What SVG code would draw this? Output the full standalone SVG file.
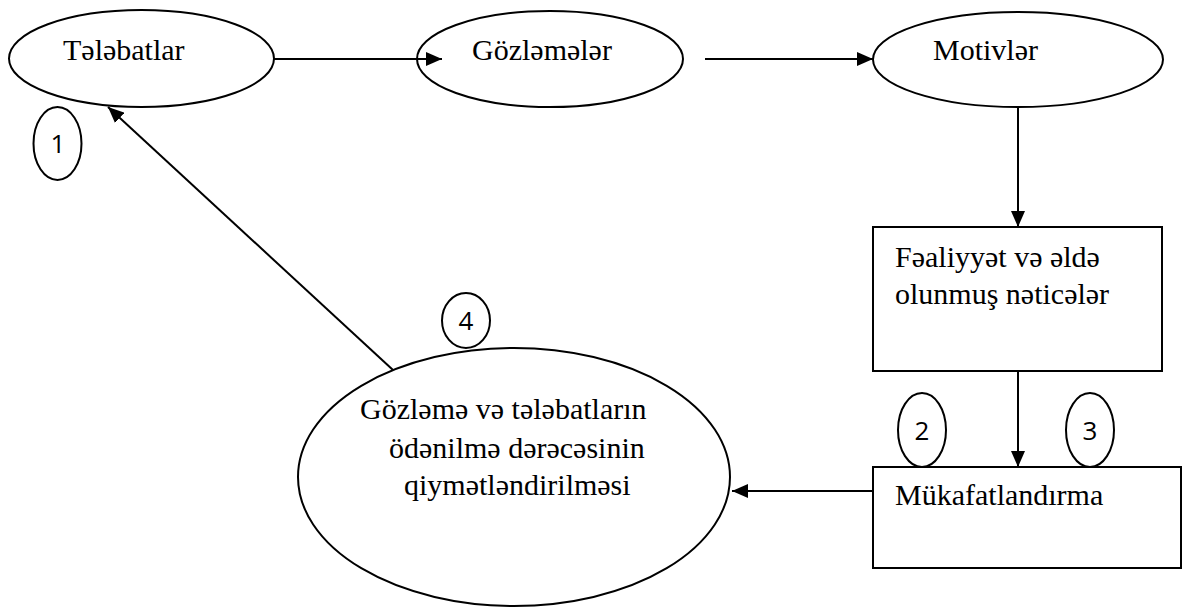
<svg xmlns="http://www.w3.org/2000/svg" width="1185" height="608" viewBox="0 0 1185 608">
<defs>
<marker id="ah" markerWidth="16" markerHeight="14" refX="16" refY="7" orient="auto" markerUnits="userSpaceOnUse">
<path d="M0,0 L16,7 L0,14 Z" fill="#000"/>
</marker>
<style>
.shape{fill:#fff;stroke:#000;stroke-width:2}
.lbl{font-family:"Liberation Serif","DejaVu Serif","Times New Roman",serif;font-size:30px;fill:#000}
.num{font-family:"Open Sans","Liberation Sans",sans-serif;font-size:26px;fill:#000}
.num-shape{fill:none;stroke:#000;stroke-width:2}
.conn{stroke:#000;stroke-width:2;fill:none}
</style>
</defs>
<rect width="1185" height="608" fill="#fff"/>
<g id="connectors">
<line class="conn" x1="274" y1="59" x2="442" y2="59" marker-end="url(#ah)"/>
<line class="conn" x1="705" y1="59" x2="873" y2="59" marker-end="url(#ah)"/>
<line class="conn" x1="1018" y1="107" x2="1018" y2="227" marker-end="url(#ah)"/>
<line class="conn" x1="1018" y1="371" x2="1018" y2="467" marker-end="url(#ah)"/>
<line class="conn" x1="873" y1="491" x2="732" y2="491" marker-end="url(#ah)"/>
<line class="conn" x1="393" y1="370" x2="108" y2="107" marker-end="url(#ah)"/>
</g>
<g id="node-telebatlar">
<ellipse class="shape" cx="141.5" cy="58.5" rx="132.5" ry="48.5"/>
<text class="lbl" x="63" y="60">Tələbatlar</text>
</g>
<g id="node-gozlemeler">
<ellipse class="shape" cx="550" cy="59" rx="133" ry="48" fill-opacity="0"/>
<text class="lbl" x="472" y="60">Gözləmələr</text>
</g>
<g id="node-motivler">
<ellipse class="shape" cx="1018" cy="59.5" rx="145" ry="47.5"/>
<text class="lbl" x="933" y="60">Motivlər</text>
</g>
<g id="node-fealiyyet">
<rect class="shape" x="873" y="227" width="289" height="144"/>
<text class="lbl" x="895" y="267">Fəaliyyət və əldə</text>
<text class="lbl" x="895" y="304">olunmuş nəticələr</text>
</g>
<g id="node-mukafat">
<rect class="shape" x="873" y="467" width="308" height="101"/>
<text class="lbl" x="895" y="505">Mükafatlandırma</text>
</g>
<g id="node-qiymet">
<ellipse class="shape" cx="514" cy="477" rx="216" ry="129"/>
<text class="lbl" x="360" y="419">Gözləmə və tələbatların</text>
<text class="lbl" x="389" y="458">ödənilmə dərəcəsinin</text>
<text class="lbl" x="404" y="495">qiymətləndirilməsi</text>
</g>
<g id="badge-1">
<ellipse class="num-shape" cx="57.5" cy="143.5" rx="24" ry="36.5"/>
<text class="num" x="58" y="153" text-anchor="middle">1</text>
</g>
<g id="badge-2">
<ellipse class="num-shape" cx="922" cy="430" rx="24" ry="37"/>
<text class="num" x="922" y="440" text-anchor="middle">2</text>
</g>
<g id="badge-3">
<ellipse class="num-shape" cx="1090" cy="430" rx="24" ry="37"/>
<text class="num" x="1090" y="440" text-anchor="middle">3</text>
</g>
<g id="badge-4">
<ellipse class="num-shape" cx="466" cy="320.5" rx="24" ry="27.5"/>
<text class="num" x="466" y="330" text-anchor="middle">4</text>
</g>
</svg>
